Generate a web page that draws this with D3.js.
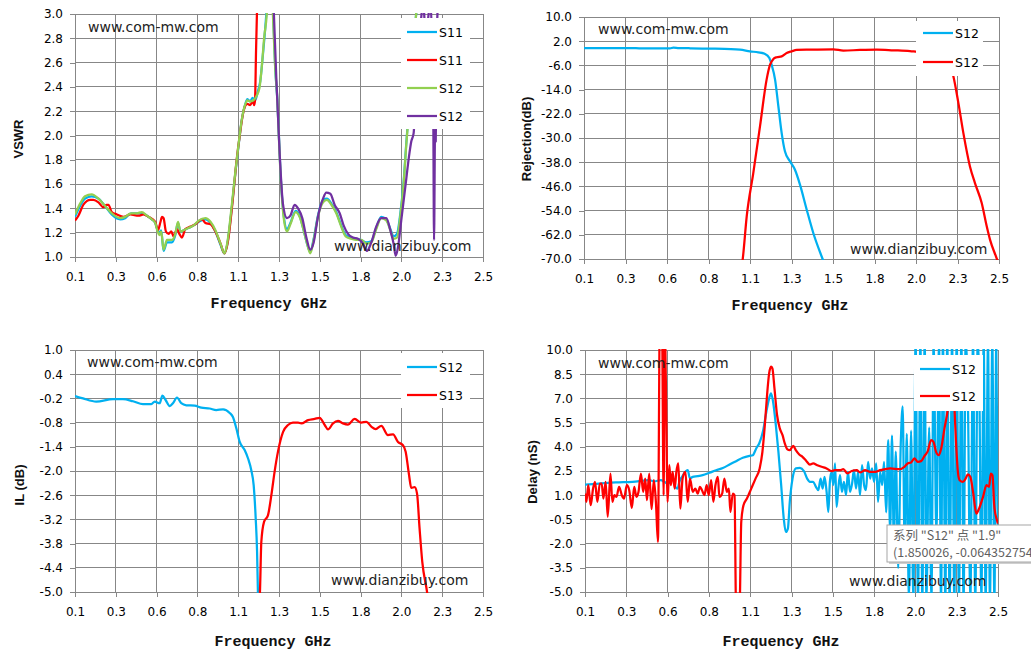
<!DOCTYPE html>
<html>
<head>
<meta charset="utf-8">
<script src="https://cdn.jsdelivr.net/npm/d3@7"></script>
<style>
  body { margin: 0; background: #fff; }
</style>
</head>
<body>
<script>
// ---- shared axis values ----
const freqTicks = [0.1, 0.34, 0.58, 0.82, 1.06, 1.3, 1.54, 1.78, 2.02, 2.26, 2.5];
const freqTickLabels = ['0.1', '0.3', '0.6', '0.8', '1.1', '1.3', '1.5', '1.8', '2.0', '2.3', '2.5'];

const vswrTicks = [1.0, 1.2, 1.4, 1.6, 1.8, 2.0, 2.2, 2.4, 2.6, 2.8, 3.0];
const rejTicks = [-70, -62, -54, -46, -38, -30, -22, -14, -6, 2, 10];
const ilTicks = [-5.0, -4.4, -3.8, -3.2, -2.6, -2.0, -1.4, -0.8, -0.2, 0.4, 1.0];
const delayTicks = [-5.0, -3.5, -2.0, -0.5, 1.0, 2.5, 4.0, 5.5, 7.0, 8.5, 10.0];

// ---- VSWR panel: [GHz, VSWR] ----
const vswrNames = ['S11', 'S11', 'S12', 'S12'];
const vswrS11Blue = [[0.100,1.33],[0.130,1.42],[0.159,1.48],[0.198,1.50],[0.238,1.48],[0.277,1.42],[0.316,1.35],[0.366,1.31],[0.395,1.32],[0.430,1.36],[0.464,1.36],[0.493,1.36],[0.523,1.34],[0.552,1.31],[0.572,1.28],[0.586,1.22],[0.596,1.20],[0.607,1.22],[0.621,1.05],[0.641,1.12],[0.670,1.12],[0.690,1.18],[0.706,1.28],[0.720,1.21],[0.739,1.22],[0.769,1.24],[0.798,1.26],[0.828,1.29],[0.867,1.31],[0.897,1.28],[0.926,1.21],[0.956,1.10],[0.979,1.03],[0.995,1.10],[1.021,1.39],[1.044,1.70],[1.064,1.94],[1.080,2.12],[1.100,2.25],[1.114,2.30],[1.130,2.28],[1.144,2.31],[1.160,2.29],[1.175,2.36],[1.190,2.45],[1.205,2.66],[1.220,2.90],[1.235,3.20],[1.250,3.60],[1.266,3.00],[1.278,2.55],[1.290,2.30],[1.308,1.72],[1.327,1.35],[1.347,1.23],[1.367,1.28],[1.398,1.38],[1.421,1.34],[1.445,1.22],[1.465,1.11],[1.484,1.04],[1.504,1.15],[1.529,1.34],[1.559,1.47],[1.582,1.48],[1.608,1.44],[1.637,1.37],[1.666,1.26],[1.692,1.18],[1.725,1.16],[1.755,1.15],[1.784,1.14],[1.813,1.12],[1.843,1.13],[1.872,1.24],[1.901,1.33],[1.931,1.31],[1.955,1.23],[1.974,1.17],[1.994,1.19],[2.013,1.35],[2.033,1.62],[2.049,1.94],[2.064,2.22],[2.080,2.55],[2.095,2.80],[2.110,3.05],[2.150,3.40],[2.300,3.60],[2.500,3.80]];
const vswrS11Red = [[0.100,1.30],[0.120,1.34],[0.149,1.43],[0.169,1.46],[0.190,1.47],[0.208,1.47],[0.238,1.45],[0.267,1.41],[0.285,1.43],[0.297,1.43],[0.316,1.37],[0.346,1.35],[0.385,1.33],[0.425,1.35],[0.474,1.34],[0.503,1.35],[0.533,1.33],[0.572,1.29],[0.588,1.22],[0.603,1.29],[0.612,1.33],[0.621,1.32],[0.635,1.21],[0.651,1.19],[0.666,1.21],[0.680,1.17],[0.700,1.23],[0.714,1.19],[0.729,1.16],[0.749,1.23],[0.779,1.25],[0.808,1.27],[0.847,1.31],[0.867,1.28],[0.897,1.27],[0.926,1.21],[0.956,1.11],[0.979,1.03],[1.001,1.14],[1.025,1.43],[1.051,1.80],[1.071,2.02],[1.087,2.17],[1.100,2.24],[1.114,2.26],[1.130,2.25],[1.146,2.28],[1.154,2.25],[1.159,2.29],[1.165,2.70],[1.171,3.05],[1.180,3.60],[1.190,4.00]];
const vswrS12Green = [[0.100,1.35],[0.130,1.44],[0.159,1.50],[0.198,1.515],[0.238,1.48],[0.277,1.42],[0.316,1.36],[0.366,1.32],[0.395,1.33],[0.430,1.36],[0.464,1.36],[0.493,1.37],[0.523,1.34],[0.552,1.31],[0.572,1.28],[0.586,1.21],[0.596,1.18],[0.607,1.21],[0.621,1.06],[0.641,1.14],[0.670,1.14],[0.690,1.19],[0.706,1.29],[0.720,1.21],[0.739,1.22],[0.769,1.24],[0.798,1.26],[0.828,1.30],[0.867,1.32],[0.897,1.29],[0.926,1.22],[0.956,1.11],[0.979,1.03],[0.995,1.11],[1.021,1.41],[1.044,1.71],[1.064,1.95],[1.080,2.12],[1.100,2.25],[1.114,2.29],[1.130,2.28],[1.150,2.29],[1.169,2.33],[1.185,2.39],[1.199,2.57],[1.213,2.81],[1.228,3.00],[1.245,3.60],[1.264,3.00],[1.277,2.57],[1.288,2.35],[1.308,1.71],[1.327,1.33],[1.347,1.21],[1.367,1.27],[1.398,1.37],[1.421,1.33],[1.445,1.22],[1.465,1.11],[1.484,1.03],[1.504,1.14],[1.529,1.33],[1.559,1.45],[1.582,1.47],[1.608,1.43],[1.637,1.36],[1.666,1.25],[1.692,1.17],[1.725,1.15],[1.755,1.14],[1.784,1.14],[1.813,1.11],[1.843,1.12],[1.872,1.23],[1.901,1.32],[1.931,1.30],[1.955,1.22],[1.974,1.15],[1.994,1.16],[2.013,1.33],[2.033,1.60],[2.049,1.93],[2.064,2.20],[2.080,2.55],[2.095,2.80],[2.110,3.05],[2.150,3.40],[2.300,3.60],[2.500,3.80]];
const vswrS12Purple = [[1.255,3.50],[1.270,3.00],[1.284,2.48],[1.304,1.85],[1.323,1.44],[1.347,1.32],[1.367,1.34],[1.392,1.43],[1.412,1.40],[1.437,1.32],[1.461,1.16],[1.484,1.06],[1.504,1.12],[1.529,1.33],[1.559,1.48],[1.578,1.53],[1.602,1.52],[1.627,1.43],[1.657,1.36],[1.680,1.26],[1.706,1.19],[1.735,1.16],[1.764,1.15],[1.794,1.11],[1.817,1.05],[1.843,1.12],[1.872,1.25],[1.901,1.32],[1.931,1.32],[1.955,1.22],[1.974,1.11],[1.986,1.01],[2.000,1.08],[2.019,1.30],[2.045,1.60],[2.064,1.82],[2.078,1.95],[2.092,2.02],[2.105,2.40],[2.120,2.80],[2.135,2.95],[2.148,3.10],[2.162,2.85],[2.176,2.95],[2.190,3.10],[2.200,2.80],[2.207,2.30],[2.212,1.14],[2.218,2.05],[2.222,1.95],[2.227,2.70],[2.235,3.10],[2.260,3.50],[2.400,3.70],[2.500,3.80]];

// ---- Rejection panel: [GHz, dB] ----
const rejNames = ['S12', 'S12'];
const rejBlue = [[0.100,-0.25],[0.200,-0.30],[0.300,-0.25],[0.400,-0.32],[0.500,-0.36],[0.597,-0.36],[0.617,-0.10],[0.650,-0.30],[0.690,-0.25],[0.720,-0.40],[0.830,-0.47],[0.950,-0.60],[1.002,-0.80],[1.060,-1.35],[1.108,-1.70],[1.147,-2.20],[1.172,-3.55],[1.185,-5.76],[1.205,-10.7],[1.224,-19.5],[1.243,-28.3],[1.262,-34.4],[1.291,-37.7],[1.320,-40.5],[1.349,-45.4],[1.388,-53.7],[1.426,-61.4],[1.480,-70.0],[1.500,-73.0]];
const rejRed = [[1.005,-75.0],[1.018,-70.0],[1.041,-55.9],[1.079,-41.6],[1.118,-26.1],[1.156,-10.7],[1.176,-5.76],[1.195,-3.90],[1.214,-3.30],[1.243,-3.00],[1.272,-1.90],[1.301,-1.35],[1.330,-0.90],[1.407,-0.80],[1.542,-0.70],[1.600,-1.10],[1.696,-0.90],[1.793,-0.80],[1.889,-1.00],[1.985,-1.25],[2.024,-1.45],[2.080,-1.70],[2.140,-2.30],[2.190,-4.00],[2.220,-6.50],[2.236,-9.6],[2.265,-18.4],[2.294,-28.4],[2.332,-39.4],[2.361,-44.9],[2.400,-51.5],[2.429,-59.2],[2.448,-63.6],[2.486,-69.7],[2.500,-72.0]];

// ---- Insertion loss panel: [GHz, dB] ----
const ilNames = ['S12', 'S13'];
const ilBlue = [[0.100,-0.14],[0.147,-0.20],[0.225,-0.28],[0.324,-0.22],[0.382,-0.22],[0.441,-0.27],[0.500,-0.34],[0.549,-0.34],[0.569,-0.28],[0.598,-0.32],[0.614,-0.13],[0.633,-0.24],[0.657,-0.39],[0.676,-0.32],[0.700,-0.18],[0.725,-0.32],[0.755,-0.37],[0.804,-0.38],[0.843,-0.43],[0.892,-0.45],[0.931,-0.49],[0.971,-0.47],[1.010,-0.56],[1.029,-0.66],[1.049,-0.94],[1.069,-1.28],[1.098,-1.48],[1.118,-1.69],[1.137,-1.98],[1.151,-2.35],[1.163,-3.18],[1.171,-4.00],[1.176,-5.00],[1.180,-5.50]];
const ilRed = [[1.182,-5.50],[1.188,-5.00],[1.196,-3.76],[1.212,-3.26],[1.235,-3.10],[1.255,-2.60],[1.274,-2.02],[1.294,-1.52],[1.324,-1.03],[1.353,-0.86],[1.382,-0.80],[1.412,-0.80],[1.431,-0.82],[1.471,-0.74],[1.510,-0.71],[1.539,-0.68],[1.569,-0.86],[1.588,-0.97],[1.618,-0.82],[1.647,-0.76],[1.676,-0.82],[1.706,-0.85],[1.745,-0.71],[1.784,-0.80],[1.814,-0.78],[1.843,-0.90],[1.869,-0.96],[1.902,-0.88],[1.941,-1.11],[1.971,-1.09],[2.000,-1.28],[2.029,-1.36],[2.045,-1.52],[2.065,-2.10],[2.078,-2.42],[2.098,-2.40],[2.112,-2.56],[2.127,-3.43],[2.143,-4.26],[2.171,-5.00],[2.186,-5.50]];

// ---- Group delay panel: [GHz, ns] ----
const delayNames = ['S12', 'S12'];
const delayBlue = [[0.100,1.66],[0.182,1.72],[0.279,1.79],[0.376,1.83],[0.473,1.93],[0.502,1.86],[0.541,1.93],[0.561,1.83],[0.580,1.72],[0.594,1.83],[0.609,2.14],[0.625,1.52],[0.638,1.41],[0.648,1.83],[0.664,2.14],[0.683,2.45],[0.697,2.55],[0.710,2.03],[0.726,2.14],[0.755,2.18],[0.784,2.24],[0.823,2.39],[0.862,2.55],[0.901,2.69],[0.940,2.90],[0.978,3.11],[1.017,3.32],[1.056,3.44],[1.075,3.48],[1.095,3.90],[1.114,4.25],[1.135,5.00],[1.154,6.17],[1.170,7.00],[1.181,7.31],[1.193,6.79],[1.209,5.34],[1.224,3.69],[1.240,1.62],[1.255,-0.45],[1.267,-1.28],[1.279,-1.07],[1.290,0.59],[1.306,2.03],[1.325,2.66],[1.349,2.69],[1.372,2.50],[1.391,2.03],[1.407,1.83],[1.426,1.83],[1.442,1.52],[1.456,1.31],[1.469,2.03],[1.481,1.41],[1.492,2.14],[1.504,1.21],[1.514,-0.03],[1.523,1.83],[1.533,2.45],[1.543,1.62],[1.553,2.97],[1.562,0.28],[1.572,1.41],[1.582,2.24],[1.593,1.21],[1.605,1.83],[1.617,1.00],[1.628,2.45],[1.640,1.21],[1.652,1.72],[1.663,2.55],[1.675,1.41],[1.687,2.45],[1.698,1.00],[1.710,2.86],[1.722,1.62],[1.733,1.31],[1.745,3.07],[1.757,2.03],[1.768,2.66],[1.780,1.83],[1.792,2.97],[1.803,0.59],[1.815,2.45],[1.827,1.62],[1.838,3.07],[1.850,-0.06],[1.862,4.41],[1.873,-1.20],[1.884,4.70],[1.895,-2.10],[1.906,3.70],[1.920,-3.50],[1.935,4.20],[1.946,6.50],[1.958,-2.70],[1.970,4.80],[1.982,-5.50],[1.995,5.00],[2.008,-5.50],[2.021,10.5],[2.035,-5.50],[2.049,10.5],[2.060,-5.50],[2.074,10.5],[2.084,-5.50],[2.100,5.20],[2.113,-5.50],[2.126,10.5],[2.142,-1.50],[2.157,10.5],[2.169,-5.50],[2.180,10.5],[2.194,-5.50],[2.205,10.5],[2.219,-5.50],[2.233,10.5],[2.246,-5.50],[2.260,10.5],[2.273,-5.50],[2.287,10.5],[2.300,-5.50],[2.312,10.5],[2.326,6.20],[2.339,-5.50],[2.355,10.5],[2.368,-5.50],[2.382,10.5],[2.393,6.20],[2.403,-5.50],[2.417,10.5],[2.428,-5.50],[2.442,10.5],[2.453,-5.50],[2.467,10.5],[2.479,-5.50],[2.490,10.5],[2.500,-1.50]];
const delayRed = [[0.100,1.10],[0.108,0.59],[0.119,1.62],[0.133,0.38],[0.147,1.41],[0.158,1.83],[0.172,0.59],[0.186,1.72],[0.197,1.72],[0.207,0.79],[0.220,1.83],[0.232,-0.34],[0.248,2.34],[0.259,0.59],[0.271,1.00],[0.283,0.90],[0.298,1.52],[0.314,1.00],[0.327,0.79],[0.343,1.62],[0.357,1.31],[0.372,0.21],[0.386,1.52],[0.399,0.90],[0.411,1.21],[0.425,2.34],[0.438,1.21],[0.450,2.03],[0.460,0.69],[0.473,2.34],[0.487,0.13],[0.500,1.93],[0.512,0.59],[0.524,-1.90],[0.535,12.0],[0.547,12.0],[0.557,1.00],[0.563,12.0],[0.570,8.03],[0.580,0.59],[0.590,2.86],[0.599,1.62],[0.609,2.45],[0.621,1.41],[0.631,2.45],[0.642,2.97],[0.654,0.17],[0.667,2.03],[0.683,2.45],[0.697,0.59],[0.710,2.03],[0.726,1.21],[0.741,1.41],[0.755,1.10],[0.768,1.52],[0.780,1.31],[0.794,1.00],[0.807,1.62],[0.819,1.00],[0.833,1.93],[0.846,0.59],[0.858,1.62],[0.872,2.14],[0.881,0.90],[0.897,1.10],[0.910,2.03],[0.924,1.21],[0.936,1.41],[0.945,-0.03],[0.959,1.10],[0.969,1.00],[0.978,-6.00],[0.998,-6.00],[1.008,-0.66],[1.021,0.38],[1.041,0.79],[1.066,1.41],[1.091,2.03],[1.115,2.66],[1.131,3.69],[1.145,5.34],[1.158,7.21],[1.170,8.55],[1.181,8.97],[1.189,8.86],[1.201,7.62],[1.216,5.97],[1.232,5.14],[1.248,4.72],[1.261,4.21],[1.275,3.86],[1.290,3.79],[1.310,4.06],[1.325,3.79],[1.345,3.52],[1.364,3.38],[1.387,3.11],[1.407,2.90],[1.426,2.97],[1.450,2.86],[1.475,2.76],[1.504,2.66],[1.533,2.50],[1.553,2.55],[1.582,2.55],[1.601,2.61],[1.625,2.36],[1.650,2.50],[1.679,2.55],[1.698,2.41],[1.728,2.55],[1.757,2.45],[1.786,2.45],[1.815,2.55],[1.844,2.61],[1.873,2.66],[1.926,2.61],[1.956,2.76],[1.975,2.97],[1.995,3.03],[2.014,3.28],[2.034,3.07],[2.053,3.11],[2.073,3.44],[2.092,3.73],[2.111,4.41],[2.125,4.31],[2.140,3.69],[2.156,3.48],[2.170,3.90],[2.189,5.14],[2.209,6.38],[2.222,7.83],[2.235,9.00],[2.248,6.17],[2.257,4.10],[2.267,2.45],[2.277,1.93],[2.296,1.83],[2.312,2.03],[2.325,2.29],[2.339,2.14],[2.355,1.21],[2.374,-0.14],[2.390,0.17],[2.413,0.90],[2.433,1.62],[2.448,1.52],[2.458,2.34],[2.468,2.24],[2.478,0.38],[2.491,-0.45],[2.500,-0.76]];

const tooltipLines = ['系列 "S12" 点 "1.9"', '(1.850026, -0.064352754)'];

// colours
const BLUE = '#00b0f0';
const RED = '#ff0000';
const GREEN = '#92d050';
const PURPLE = '#7030a0';
const GRID = '#878787';

const WIDTH = 1031;
const HEIGHT = 661;
const TICK_FONT = '"DejaVu Sans", Verdana, sans-serif';

const svg = d3.select('body')
  .append('svg')
  .attr('width', WIDTH)
  .attr('height', HEIGHT)
  .style('background', '#fff');

const defs = svg.append('defs');

function drawPanel(p) {
  const x = d3.scaleLinear().domain([0.1, 2.5]).range([p.left, p.right]);
  const y = d3.scaleLinear().domain([p.ticks[0], p.ticks[p.ticks.length - 1]]).range([p.bottom, p.top]);
  const g = svg.append('g');

  // gridlines
  const grid = g.append('g').attr('shape-rendering', 'crispEdges').attr('stroke', GRID).attr('stroke-width', 1);
  grid.selectAll('.gx').data(freqTicks).join('line')
    .attr('x1', d => x(d)).attr('x2', d => x(d))
    .attr('y1', p.top).attr('y2', p.bottom);
  grid.selectAll('.gy').data(p.ticks).join('line')
    .attr('x1', p.left).attr('x2', p.right)
    .attr('y1', d => y(d)).attr('y2', d => y(d));

  // axes
  const ax = g.append('g')
    .attr('transform', `translate(0,${p.bottom})`)
    .call(d3.axisBottom(x).tickValues(freqTicks)
      .tickFormat((d, i) => freqTickLabels[i])
      .tickSize(5).tickSizeOuter(0).tickPadding(10));
  const ay = g.append('g')
    .attr('transform', `translate(${p.left},0)`)
    .call(d3.axisLeft(y).tickValues(p.ticks)
      .tickFormat(d => d.toFixed(1))
      .tickSize(5).tickSizeOuter(0).tickPadding(7));
  [ax, ay].forEach(a => {
    a.attr('font-family', TICK_FONT).attr('font-size', 12);
    a.selectAll('path, line').attr('stroke', GRID).attr('shape-rendering', 'crispEdges');
    a.selectAll('text').attr('fill', '#000');
  });

  // series, clipped to the plot area
  const clipName = 'clip-' + p.id;
  defs.append('clipPath').attr('id', clipName)
    .append('rect')
    .attr('x', p.left).attr('y', p.top - 1)
    .attr('width', p.right - p.left).attr('height', p.bottom - p.top + 2);

  const line = d3.line()
    .x(d => x(d[0]))
    .y(d => y(d[1]))
    .curve(d3.curveMonotoneX);

  g.append('g')
    .attr('clip-path', `url(#${clipName})`)
    .selectAll('path')
    .data(p.series)
    .join('path')
    .attr('d', s => line(s.data))
    .attr('fill', 'none')
    .attr('stroke', s => s.color)
    .attr('stroke-width', 2.25)
    .attr('stroke-linejoin', 'round');

  // legend
  const lg = p.legend;
  g.append('rect')
    .attr('x', lg.x).attr('y', lg.y)
    .attr('width', lg.w).attr('height', lg.h)
    .attr('fill', '#fff');
  const rows = g.append('g').selectAll('g')
    .data(p.series)
    .join('g')
    .attr('transform', (d, i) => `translate(0,${lg.rowY[i]})`);
  rows.append('line')
    .attr('x1', lg.lineX).attr('x2', lg.lineX + 30)
    .attr('stroke', d => d.color).attr('stroke-width', 2.25);
  rows.append('text')
    .attr('x', lg.lineX + 32)
    .attr('dy', '0.36em')
    .attr('font-family', TICK_FONT).attr('font-size', 12.5)
    .attr('fill', '#000')
    .text(d => d.name);

  // watermarks
  g.append('text')
    .attr('x', p.mark1[0]).attr('y', p.mark1[1])
    .attr('font-family', TICK_FONT).attr('font-size', 14)
    .attr('fill', '#222')
    .text('www.com-mw.com');
  g.append('text')
    .attr('x', p.mark2[0]).attr('y', p.mark2[1])
    .attr('font-family', TICK_FONT).attr('font-size', 14)
    .attr('fill', '#222')
    .text('www.dianzibuy.com');

  // axis titles
  g.append('text')
    .attr('x', p.xTitle[0]).attr('y', p.xTitle[1])
    .attr('text-anchor', 'middle')
    .attr('font-family', '"Liberation Mono", "DejaVu Sans Mono", monospace')
    .attr('font-weight', 'bold').attr('font-size', 15)
    .attr('fill', '#111')
    .text('Frequency GHz');
  g.append('text')
    .attr('transform', `translate(${p.yTitle[0]},${p.yTitle[1]}) rotate(-90)`)
    .attr('text-anchor', 'middle')
    .attr('font-family', '"Liberation Sans", Arial, sans-serif')
    .attr('font-weight', 'bold').attr('font-size', 13)
    .attr('fill', '#111')
    .text(p.yLabel);
}

drawPanel({
  id: 'vswr', left: 75, right: 483, top: 14, bottom: 257,
  ticks: vswrTicks, yLabel: 'VSWR',
  series: [
    { name: vswrNames[0], color: BLUE, data: vswrS11Blue },
    { name: vswrNames[1], color: RED, data: vswrS11Red },
    { name: vswrNames[2], color: GREEN, data: vswrS12Green },
    { name: vswrNames[3], color: PURPLE, data: vswrS12Purple }
  ],
  legend: { x: 401, y: 18, w: 69, h: 111, lineX: 407, rowY: [32, 60, 88, 116] },
  mark1: [88, 32], mark2: [334, 251],
  xTitle: [269, 308], yTitle: [23, 139]
});

drawPanel({
  id: 'rej', left: 584, right: 999, top: 17, bottom: 259,
  ticks: rejTicks, yLabel: 'Rejection(dB)',
  series: [
    { name: rejNames[0], color: BLUE, data: rejBlue },
    { name: rejNames[1], color: RED, data: rejRed }
  ],
  legend: { x: 916, y: 21, w: 67, h: 55, lineX: 923, rowY: [33, 62] },
  mark1: [598, 34], mark2: [850, 254],
  xTitle: [790, 310], yTitle: [531, 139]
});

drawPanel({
  id: 'il', left: 75, right: 483, top: 350, bottom: 592,
  ticks: ilTicks, yLabel: 'IL (dB)',
  series: [
    { name: ilNames[0], color: BLUE, data: ilBlue },
    { name: ilNames[1], color: RED, data: ilRed }
  ],
  legend: { x: 401, y: 353, w: 69, h: 55, lineX: 407, rowY: [367, 395] },
  mark1: [87, 367], mark2: [331, 585],
  xTitle: [273, 646], yTitle: [24, 485]
});

drawPanel({
  id: 'delay', left: 585, right: 998, top: 350, bottom: 592,
  ticks: delayTicks, yLabel: 'Delay (nS)',
  series: [
    { name: delayNames[0], color: BLUE, data: delayBlue },
    { name: delayNames[1], color: RED, data: delayRed }
  ],
  legend: { x: 914, y: 355, w: 69, h: 56, lineX: 920, rowY: [369, 396] },
  mark1: [598, 368], mark2: [849, 586],
  xTitle: [781, 646], yTitle: [537, 472]
});

// hover tooltip left on the delay chart
const tip = svg.append('g').attr('transform', 'translate(887,525)');
tip.append('rect')
  .attr('x', 2).attr('y', 2).attr('width', 160).attr('height', 37)
  .attr('fill', '#cfcfcf');
tip.append('rect')
  .attr('x', 0).attr('y', 0).attr('width', 160).attr('height', 37)
  .attr('fill', '#fff').attr('stroke', '#a6a6a6');
tip.selectAll('text')
  .data(tooltipLines)
  .join('text')
  .attr('x', 6)
  .attr('y', (d, i) => 15 + i * 17)
  .attr('font-family', '"Noto Sans CJK SC", "DejaVu Sans", sans-serif')
  .attr('font-size', 12.5)
  .attr('fill', '#5f5f5f')
  .text(d => d);
</script>
</body>
</html>
